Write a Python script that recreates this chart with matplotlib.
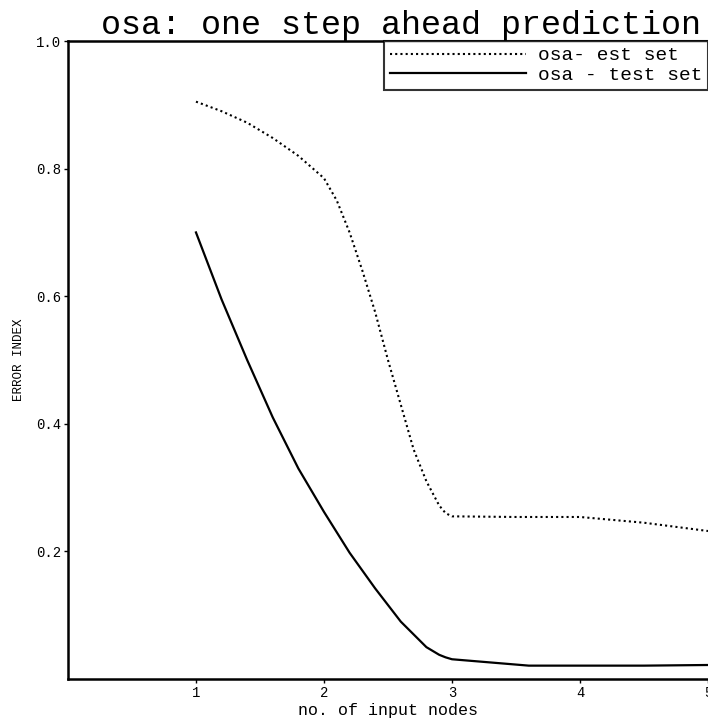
import matplotlib
matplotlib.use("Agg")
import matplotlib.pyplot as plt

# values
x_est = [1.0, 1.2, 1.4, 1.6, 1.8, 2.0, 2.1, 2.2, 2.3, 2.4, 2.5, 2.6, 2.7,
         2.8, 2.9, 2.95, 3.0, 3.5, 4.0, 4.5, 5.0]
est = [0.905, 0.89, 0.872, 0.848, 0.82, 0.785, 0.75, 0.70, 0.64, 0.575,
       0.50, 0.43, 0.36, 0.31, 0.272, 0.26, 0.255, 0.254, 0.254, 0.245, 0.232]

x_test = [1.0, 1.2, 1.4, 1.6, 1.8, 2.0, 2.2, 2.4, 2.6, 2.8, 2.9, 2.95, 3.0,
          3.3, 3.6, 4.0, 4.5, 5.0]
test = [0.70, 0.595, 0.50, 0.41, 0.33, 0.262, 0.198, 0.142, 0.09, 0.05,
        0.038, 0.034, 0.031, 0.026, 0.021, 0.021, 0.021, 0.022]

xticks = [1, 2, 3, 4, 5]
yticks = [0.2, 0.4, 0.6, 0.8, 1.0]

plt.rcParams['font.family'] = ['Liberation Mono', 'DejaVu Sans Mono']

fig = plt.figure(figsize=(7.08, 7.25), dpi=100)
ax = fig.add_axes([0.096, 0.0634, 0.904, 0.88])

ax.plot(x_est, est, color='black', lw=1.5, ls=(0, (1, 1.5)), label='osa- est set')
ax.plot(x_test, test, color='black', lw=1.6, label='osa - test set')

ax.set_xlim(0, 5)
ax.set_ylim(0, 1.0)
ax.set_xticks(xticks)
ax.set_xticklabels([str(t) for t in xticks])
ax.set_yticks(yticks)
ax.set_yticklabels(['%.1f' % t for t in yticks])
ax.tick_params(direction='out', length=3, width=1, labelsize=10, pad=2, colors='black')

for side in ['left', 'bottom', 'top']:
    ax.spines[side].set_linewidth(1.8)
ax.spines['right'].set_visible(False)

ax.set_title('osa: one step ahead prediction', fontsize=24, pad=3, x=0.52)
ax.set_xlabel('no. of input nodes', fontsize=12, labelpad=2)
ax.set_ylabel('ERROR INDEX', fontsize=9, labelpad=8)

leg = ax.legend(loc='upper right', bbox_to_anchor=(1.0, 1.0), borderaxespad=0,
                fontsize=14, handlelength=7, frameon=True, fancybox=False,
                borderpad=0.3, labelspacing=0.1, handletextpad=0.6)
leg.get_frame().set_edgecolor('black')
leg.get_frame().set_linewidth(1.5)

fig.savefig('out.png', dpi=100)
